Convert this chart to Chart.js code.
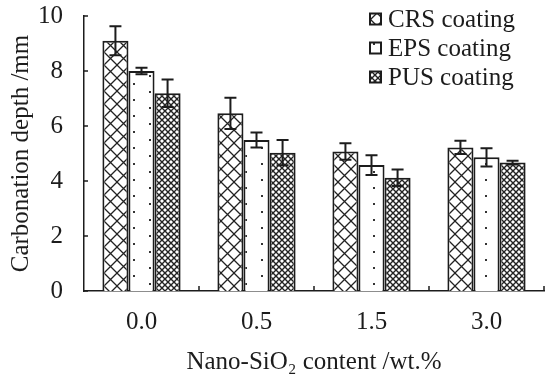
<!DOCTYPE html>
<html>
<head>
<meta charset="utf-8">
<script src="https://cdn.jsdelivr.net/npm/chart.js@4/dist/chart.umd.min.js"></script>
<style>
html, body { margin: 0; background: #fff; }
#wrap { width: 550px; height: 383px; }
</style>
</head>
<body>
<div id="wrap"><canvas id="chart"></canvas></div>
<script>
// values
const categories = ['0.0', '0.5', '1.5', '3.0'];
const seriesNames = ['CRS coating', 'EPS coating', 'PUS coating'];
const crsDepth = [9.10, 6.46, 5.07, 5.22];
const crsErr = [0.53, 0.57, 0.30, 0.24];
const epsDepth = [8.00, 5.49, 4.58, 4.86];
const epsErr = [0.12, 0.27, 0.36, 0.33];
const pusDepth = [7.19, 5.03, 4.12, 4.67];
const pusErr = [0.50, 0.46, 0.30, 0.07];
const yTicks = [0, 2, 4, 6, 8, 10];

const serif = '"Liberation Serif", "Times New Roman", serif';
const ink = '#1c1c1c';

function makePattern(kind) {
    let c = document.createElement('canvas');
    let g = c.getContext('2d');
    if (kind == 'cross') {
        let s = 13;
        c.width = s; c.height = s;
        g.fillStyle = '#fff'; g.fillRect(0, 0, s, s);
        g.strokeStyle = '#222'; g.lineWidth = 1.3;
        g.beginPath();
        g.moveTo(-1, -1); g.lineTo(s + 1, s + 1);
        g.moveTo(-1, s + 1); g.lineTo(s + 1, -1);
        g.stroke();
    } else if (kind == 'dots') {
        c.width = 32; c.height = 16;
        g.fillStyle = '#fff'; g.fillRect(0, 0, 32, 16);
        g.fillStyle = '#333';
        g.fillRect(5, 3, 2, 2);
        g.fillRect(21, 11, 2, 2);
    } else {
        let s = 6;
        c.width = s; c.height = s;
        g.fillStyle = '#fff'; g.fillRect(0, 0, s, s);
        g.strokeStyle = '#222'; g.lineWidth = 1.4;
        g.beginPath();
        g.moveTo(-1, -1); g.lineTo(s + 1, s + 1);
        g.moveTo(-1, s + 1); g.lineTo(s + 1, -1);
        g.stroke();
    }
    return g.createPattern(c, 'repeat');
}

const patterns = [makePattern('cross'), makePattern('dots'), makePattern('fine')];
const errors = [crsErr, epsErr, pusErr];

// error bars drawn from the y scale
const errorBars = {
    id: 'errorBars',
    afterDatasetsDraw(chart) {
        let ctx = chart.ctx;
        let y = chart.scales.y;
        ctx.save();
        ctx.strokeStyle = ink;
        ctx.lineWidth = 2;
        chart.data.datasets.forEach((ds, i) => {
            let meta = chart.getDatasetMeta(i);
            meta.data.forEach((bar, j) => {
                let v = ds.data[j], e = errors[i][j];
                let top = y.getPixelForValue(v + e);
                let bot = y.getPixelForValue(v - e);
                ctx.beginPath();
                ctx.moveTo(bar.x, top); ctx.lineTo(bar.x, bot);
                ctx.moveTo(bar.x - 6, top); ctx.lineTo(bar.x + 6, top);
                ctx.moveTo(bar.x - 6, bot); ctx.lineTo(bar.x + 6, bot);
                ctx.stroke();
            });
        });
        ctx.restore();
    }
};

// inward tick marks on both axes
const innerTicks = {
    id: 'innerTicks',
    afterDraw(chart) {
        let ctx = chart.ctx;
        let a = chart.chartArea;
        let y = chart.scales.y;
        ctx.save();
        ctx.strokeStyle = ink;
        ctx.lineWidth = 1.5;
        ctx.beginPath();
        yTicks.forEach(t => {
            let py = y.getPixelForValue(t);
            ctx.moveTo(a.left, py); ctx.lineTo(a.left + 4, py);
        });
        let step = (a.right - a.left) / categories.length;
        for (let i = 1; i <= categories.length; i++) {
            let px = a.left + step * i;
            ctx.moveTo(px, a.bottom); ctx.lineTo(px, a.bottom - 5);
        }
        ctx.stroke();
        ctx.restore();
    }
};

// legend in the upper right corner of the plot
const boxLegend = {
    id: 'boxLegend',
    afterDraw(chart) {
        let ctx = chart.ctx;
        ctx.save();
        ctx.font = '25px ' + serif;
        ctx.textBaseline = 'middle';
        seriesNames.forEach((name, i) => {
            let cy = 19.5 + i * 29;
            ctx.fillStyle = patterns[i];
            ctx.fillRect(370, cy - 6, 11, 11);
            ctx.strokeStyle = ink;
            ctx.lineWidth = 2;
            ctx.strokeRect(370, cy - 6, 11, 11);
            ctx.fillStyle = ink;
            ctx.fillText(name, 388, cy + 1);
        });
        ctx.restore();
    }
};

const barStyle = {
    borderColor: ink,
    borderWidth: 2,
    borderSkipped: 'bottom',
    categoryPercentage: 0.68,
    barPercentage: 1.0
};

let chart = new Chart('chart', {
    type: 'bar',
    data: {
        labels: categories,
        datasets: [
            Object.assign({ label: seriesNames[0], data: crsDepth, backgroundColor: patterns[0] }, barStyle),
            Object.assign({ label: seriesNames[1], data: epsDepth, backgroundColor: patterns[1] }, barStyle),
            Object.assign({ label: seriesNames[2], data: pusDepth, backgroundColor: patterns[2] }, barStyle)
        ]
    },
    options: {
        responsive: true,
        maintainAspectRatio: false,
        animation: false,
        layout: { padding: { top: 16, right: 6, left: 0, bottom: 0 } },
        plugins: {
            legend: { display: false },
            tooltip: { enabled: false }
        },
        scales: {
            x: {
                grid: { display: false, drawTicks: false },
                border: { color: ink, width: 1.5 },
                ticks: { color: ink, font: { family: serif, size: 25 }, padding: 16 },
                title: {
                    display: true,
                    text: 'Nano-SiO\u2082 content /wt.%',
                    color: ink,
                    font: { family: serif, size: 25 },
                    padding: { top: 0, bottom: 6 }
                },
                afterFit: s => { s.height = 92; s.paddingLeft = 0; s.paddingRight = 0; }
            },
            y: {
                min: 0,
                max: 10,
                grid: { display: false, drawTicks: false },
                border: { color: ink, width: 1.5 },
                ticks: {
                    stepSize: 2,
                    color: ink,
                    font: { family: serif, size: 25 },
                    padding: 21
                },
                title: {
                    display: true,
                    text: 'Carbonation depth /mm',
                    color: ink,
                    font: { family: serif, size: 25 },
                    padding: { top: 6, bottom: 0 }
                },
                afterFit: s => { s.width = 84; s.paddingTop = 0; s.paddingBottom = 0; }
            }
        }
    },
    plugins: [errorBars, innerTicks, boxLegend]
});
</script>
</body>
</html>
